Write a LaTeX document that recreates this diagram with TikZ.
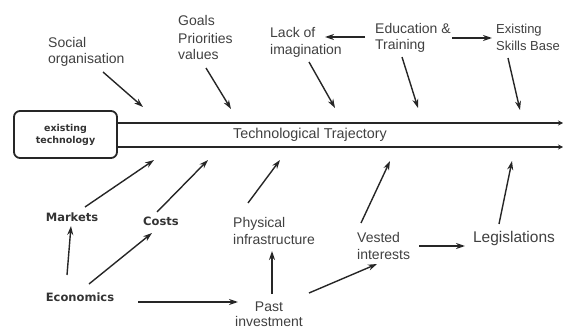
\documentclass[tikz,border=0pt]{standalone}
\usepackage{fontspec}
\setmainfont{Liberation Sans}
\newfontfamily\boldlbl{DejaVu Sans}
\usetikzlibrary{arrows.meta}
\begin{document}
\begin{tikzpicture}[x=1pt,y=-1pt,
  lbl/.style={font=\fontsize{14}{17}\selectfont, inner sep=0pt, align=left, text=black!75},
  blbl/.style={font=\boldlbl\bfseries\fontsize{11.5}{13}\selectfont, inner sep=0pt, text=black!80},
  arr/.style={draw=black!85, line width=1.4pt, -{Stealth[length=9pt,width=6pt]}},
  traj/.style={draw=black!85, line width=2.6pt, -{Stealth[length=5pt,width=5pt]}}]
\useasboundingbox (0,0) rectangle (563,329);
% existing technology box
\node[draw=black!85, line width=1.8pt, rounded corners=6pt, minimum width=103pt, minimum height=47pt,
  align=center, font=\boldlbl\bfseries\fontsize{9.5}{12}\selectfont, inner sep=0pt, text=black!80] (box) at (65.5,134.5) {existing\\technology};
\coordinate (t1) at (117,123);
\coordinate (t1e) at (563,123);
\coordinate (t2) at (117,147);
\coordinate (t2e) at (563,147);
\draw[traj] (t1) -- (t1e);
\draw[traj] (t2) -- (t2e);
\node[font=\fontsize{14.3}{15}\selectfont, inner sep=0pt, text=black!75] (tt) at (310,135) {Technological Trajectory};
% top labels (base = last line's baseline)
\node[lbl, anchor=base west] (soc) at (48,64) {Social\\organisation};
\node[lbl, anchor=base west] (goals) at (178,60) {Goals\\Priorities\\values};
\node[lbl, anchor=base west] (lack) at (270,55) {Lack of\\imagination};
\node[lbl, anchor=base west] (edu) at (375,50) {Education \&\\Training};
\node[lbl, anchor=base west, font=\fontsize{13}{17}\selectfont] (skills) at (496,51) {Existing\\Skills Base};
% top arrow points
\coordinate (a1) at (143,107);
\coordinate (a2) at (231,109);
\coordinate (a3) at (335,108);
\coordinate (a4) at (418,108);
\coordinate (a5) at (520,110);
\coordinate (s1) at (103,72);
\coordinate (s2) at (206,68);
\coordinate (s3) at (309,62);
\coordinate (s4) at (402,57);
\coordinate (s5) at (508,58);
\draw[arr] (s1) -- (a1);
\draw[arr] (s2) -- (a2);
\draw[arr] (s3) -- (a3);
\draw[arr] (s4) -- (a4);
\draw[arr] (s5) -- (a5);
\coordinate (e1) at (365,37);
\coordinate (l1) at (325,37);
\coordinate (e2) at (452,38);
\coordinate (k1) at (492,38);
\draw[arr] (e1) -- (l1);
\draw[arr] (e2) -- (k1);
% bottom labels
\node[blbl] (markets) at (72,217) {Markets};
\node[blbl] (costs) at (161,221) {Costs};
\node[lbl, anchor=base west] (phys) at (233,244) {Physical\\infrastructure};
\node[blbl] (econ) at (80,297) {Economics};
\node[lbl, anchor=base, align=center, font=\fontsize{14}{15}\selectfont] (past) at (269,326) {Past\\investment};
\node[lbl, anchor=base west] (vested) at (357,259) {Vested\\interests};
\node[font=\fontsize{15.5}{17}\selectfont, inner sep=0pt, text=black!75] (legis) at (514,238) {Legislations};
% bottom arrows
\coordinate (b1) at (154,160);
\coordinate (b2) at (208,160);
\coordinate (b3) at (280,160);
\coordinate (b4) at (390,161);
\coordinate (b5) at (512,161);
\draw[arr] (85,207) -- (b1);
\draw[arr] (157,212) -- (b2);
\draw[arr] (248,203) -- (b3);
\draw[arr] (361,223) -- (b4);
\draw[arr] (499,224) -- (b5);
\draw[arr] (67,275) -- (71,226);
\draw[arr] (89,284) -- (152,233);
\draw[arr] (138,302) -- (238,302);
\draw[arr] (272,294) -- (272,251);
\draw[arr] (309,293) -- (377,264);
\draw[arr] (419,246) -- (465,246);
\end{tikzpicture}
\end{document}
